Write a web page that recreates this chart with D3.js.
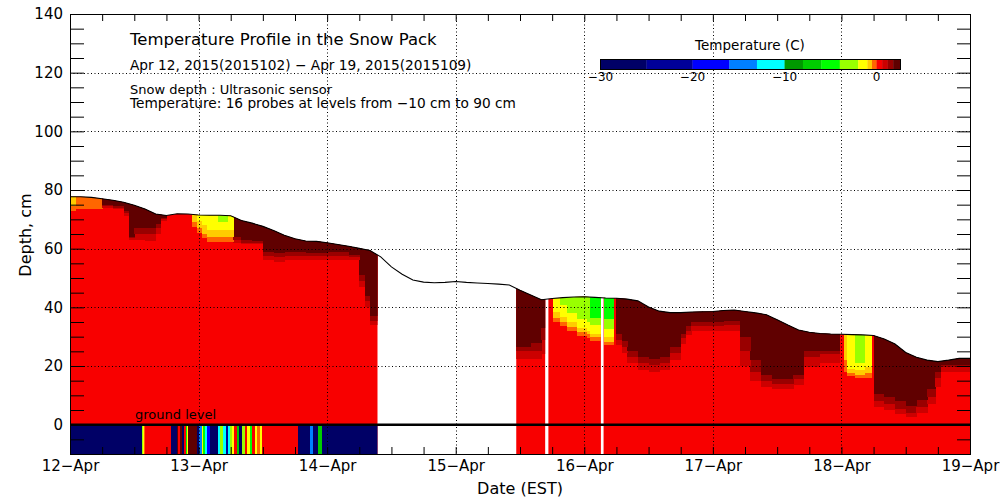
<!DOCTYPE html>
<html>
<head>
<meta charset="utf-8">
<script src="https://cdn.jsdelivr.net/npm/d3@7"></script>
<style>
  body { margin: 0; background: #fff; }
  text { font-family: "DejaVu Sans", sans-serif; fill: #000; }
</style>
</head>
<body>
<div id="chart"></div>
<script>
// ---- data (hours since 12-Apr 00:00 EST, depth in cm, temperature in C) ----
var dayLabels = ['12−Apr', '13−Apr', '14−Apr', '15−Apr', '16−Apr', '17−Apr', '18−Apr', '19−Apr'];
var depthLabels = [0, 20, 40, 60, 80, 100, 120, 140];

var levels = [-30, -25, -20, -16, -13, -10, -8, -6, -4, -2, -1, -0.5, 0, 0.6, 1.2, 1.8, 2.6];
var palette = ['#000066', '#000099', '#0000ff', '#0080ff', '#00ffff', '#009900', '#00cc00', '#00ff00',
               '#99ff00', '#ffff00', '#ffcc00', '#ff6600', '#f80000', '#cc0000', '#990000', '#600000'];
var cbTicks = [-30, -20, -10, 0];

// snow depth from the ultrasonic sensor, every 2 hours
var snowHours = d3.range(0, 169, 2);
var snowDepth = [77.7, 77.7, 77.5, 77, 76.5, 75.8, 74.8, 73.5, 71.8, 71.3, 71.9, 71.8, 71.5, 71.4, 71.4, 71.2,
                 69.6, 68.7, 67.6, 66.2, 64.6, 63.4, 62.6, 62.5, 62, 61.4, 60.8, 60.1, 59.4, 57.2, 53.8, 51.3,
                 49.3, 48.6, 48.4, 48.5, 48.8, 48.5, 48.3, 48.1, 47.9, 47.6, 45.8, 44.2, 42.6, 43, 43.3, 43.5,
                 43.6, 43.4, 43.2, 43.1, 42.8, 42.2, 40.1, 38.7, 38.2, 38.2, 38.4, 38.5, 38.6, 38.9, 39.1, 38.6,
                 38.1, 37.5, 35.8, 34, 32.3, 31.5, 31.1, 30.9, 30.8, 30.7, 30.6, 30.4, 29.2, 27.5, 24.6, 23,
                 22, 21.5, 22, 22.6, 22.6];

// periods with probe data
var dataSpans = [[0, 57.4], [83.3, 88.7], [89.3, 99.1], [99.6, 168]];
var baseTemp = 0.3;

// below ground (-10..0 cm): [from h, to h, temp]
var soilStripes = [
  [0, 13.4, -28], [13.4, 13.6, -3], [13.6, 13.8, -1.5], [13.8, 14.0, -0.3], [14.0, 18.8, 0.3],
  [18.8, 19.9, -28], [19.9, 20.2, 2.2], [20.2, 20.5, 0.3], [20.5, 20.9, 2.2], [20.9, 21.3, -28],
  [21.3, 21.6, 0.3], [21.6, 21.8, -5], [21.8, 22.1, -1.5], [22.1, 23.7, 2.2], [23.7, 24.1, -28],
  [24.1, 24.6, -14], [24.6, 24.9, -1.5], [24.9, 25.2, -5], [25.2, 25.6, -11], [25.6, 26.1, -18],
  [26.1, 27.7, -28], [27.7, 28.0, -11], [28.0, 28.6, -3], [28.6, 29.1, -11], [29.1, 29.5, -22],
  [29.5, 29.9, -11], [29.9, 30.2, -3], [30.2, 30.6, -1.5], [30.6, 31.1, 0.3], [31.1, 31.5, -7],
  [31.5, 32.1, -28], [32.1, 32.7, -3], [32.7, 33.0, 0.3], [33.0, 33.6, -1.5], [33.6, 34.0, -5],
  [34.0, 34.5, 0.3], [34.5, 34.9, -1.5], [34.9, 35.5, -0.3], [35.5, 35.8, -1.5], [35.8, 42.6, 0.3],
  [42.6, 44.8, -28], [44.8, 45.4, -14], [45.4, 46.3, -28], [46.3, 47.0, -7], [47.0, 57.4, -28]
];

// warm layers under the snow surface: [from h, to h, bottom of each layer]
var warmTemps = [2.2, 1.5, 0.9];
var warmCols = [
  [6, 8, 75, 74.5, 74], [8, 10, 74.5, 74, 73.5], [10, 11, 73, 72, 71], [11, 12, 64, 63.5, 63],
  [12, 14, 67, 65, 63], [14, 16, 67, 65, 62.5], [16, 17, 68.5, 67, 65], [17, 18, 70.5, 70, 69.5],
  [30.5, 32, 64, 63, 62], [32, 34, 63, 62, 61.5], [34, 36, 62.5, 62, 61.5], [36, 38, 59, 57.5, 56],
  [38, 40, 58.5, 57, 55.5], [40, 44, 59, 57.5, 56], [44, 48, 58.5, 57.5, 56], [48, 52, 59, 57.5, 56],
  [52, 54, 58, 57, 56], [54, 55, 51, 49, 47], [55, 56, 44, 42, 40], [56, 57.4, 37, 35.5, 34],
  [83.3, 86, 26.6, 25, 22.5], [86, 88, 28, 25, 22.5], [88, 88.7, 33, 29, 24],
  [102, 103, 31, 29, 27], [103, 104, 28.5, 26.5, 24.5], [104, 106, 25, 23, 21], [106, 108, 23, 21, 18.5],
  [108, 110, 22.5, 20.5, 18], [110, 112, 23, 21, 18.5], [112, 114, 26.5, 24.5, 22], [114, 115, 31, 29.5, 27.5],
  [115, 116, 33.5, 32, 30.5], [116, 118, 35, 33.5, 32], [118, 122, 35, 33.5, 32], [122, 125, 35.5, 34, 32],
  [125, 127, 30, 25, 20], [127, 129, 22, 18, 15], [129, 131, 17, 15, 13], [131, 135, 15.5, 14, 12],
  [135, 137, 17, 15.5, 13.5], [137, 140, 25, 23, 19.5], [140, 143.7, 25, 24, 21],
  [150, 152, 10.5, 8, 6], [152, 154, 9.5, 7, 5], [154, 156, 8, 5.5, 3.5], [156, 158, 6.5, 4, 2.5],
  [158, 160, 8.5, 6, 4], [160, 161.5, 12, 9.5, 7], [161.5, 162.5, 18, 16, 13], [162.5, 168, 20.5, 19.5, 18]
];

// cold layers under the snow surface: [from h, to h, bottom of orange, gold, yellow, yellow-green, green]
var coldTemps = [-0.3, -0.8, -1.5, -3, -5];
var coldCols = [
  [0, 1, 73, 74.5, null, null, null], [1, 6, 73.5, null, null, null, null],
  [22.7, 23.7, 67.5, 69, null, null, null], [23.7, 24.6, 65.5, 67, 69.5, null, null],
  [24.6, 25.6, 63.5, 65, 68, null, null], [25.6, 27.6, 62.4, 64, 66.4, null, null],
  [27.6, 29.5, 62.4, 64, 66.4, 69, null], [29.5, 30.5, 62.4, 64, 66.4, null, null],
  [90.2, 91.5, 35, 36.5, 38.5, null, null], [91.5, 92.7, 33.5, 35, 36.8, 40.8, null],
  [92.7, 94.6, 32, 33.3, 35, 38, null], [94.6, 96.5, 30.3, 31.7, 33, 36, null],
  [96.5, 97.1, 29.5, 31, 32, 35, null], [97.1, 99.1, 28.5, 29.8, 31, 34, 36.5],
  [99.6, 101.4, 27, 28.3, 29.8, 32.5, 36],
  [144.4, 145, 18, 22, null, null, null], [145, 146.5, 16.5, 17.5, 19, null, null],
  [146.5, 148.4, 15.8, 17, 18.5, 21, null], [148.4, 149.6, 16, 17.5, 19.5, null, null]
];

// ---- chart ----
var x = d3.scaleLinear().domain([0, 168]).range([70, 970]);
var y = d3.scaleLinear().domain([-10, 140]).range([454, 14]);
var color = d3.scaleThreshold().domain(levels.slice(1, -1)).range(palette);

var svg = d3.select('#chart').append('svg')
    .attr('width', 1000)
    .attr('height', 500);

var defs = svg.append('defs');
defs.append('clipPath').attr('id', 'spans')
    .selectAll('rect')
    .data(dataSpans)
    .join('rect')
    .attr('x', function(d) { return x(d[0]); })
    .attr('width', function(d) { return x(d[1]) - x(d[0]); })
    .attr('y', y(140))
    .attr('height', y(-10) - y(140));

var area = d3.area()
    .x(function(d, i) { return x(snowHours[i]); })
    .y0(y(-10))
    .y1(function(d) { return y(d); });
defs.append('clipPath').attr('id', 'snow')
    .append('path')
    .attr('d', area(snowDepth));

var field = svg.append('g').attr('clip-path', 'url(#spans)')
    .append('g').attr('clip-path', 'url(#snow)')
    .attr('shape-rendering', 'crispEdges');

field.append('rect')
    .attr('x', x(0)).attr('width', x(168) - x(0))
    .attr('y', y(140)).attr('height', y(-10) - y(140))
    .attr('fill', color(baseTemp));

// layers hang from the surface; draw deepest first
var layers = [];
warmCols.forEach(function(c) {
    c.slice(2).forEach(function(b, k) {
        if (b != null) layers.push({ h0: c[0], h1: c[1], bottom: b, t: warmTemps[k] });
    });
});
coldCols.forEach(function(c) {
    c.slice(2).forEach(function(b, k) {
        if (b != null) layers.push({ h0: c[0], h1: c[1], bottom: b, t: coldTemps[k] });
    });
});
layers.sort(function(a, b) { return a.bottom - b.bottom; });

field.selectAll('.layer')
    .data(layers)
    .join('rect')
    .attr('class', 'layer')
    .attr('x', function(d) { return x(d.h0); })
    .attr('width', function(d) { return x(d.h1) - x(d.h0) + 0.4; })
    .attr('y', y(140))
    .attr('height', function(d) { return y(d.bottom) - y(140); })
    .attr('fill', function(d) { return color(d.t); });

field.selectAll('.soil')
    .data(soilStripes)
    .join('rect')
    .attr('class', 'soil')
    .attr('x', function(d) { return x(d[0]); })
    .attr('width', function(d) { return x(d[1]) - x(d[0]) + 0.4; })
    .attr('y', y(0))
    .attr('height', y(-10) - y(0))
    .attr('fill', function(d) { return color(d[2]); });

// dotted grid
var grid = svg.append('g')
    .attr('stroke', '#000')
    .attr('stroke-width', 1)
    .attr('stroke-dasharray', '1,2.5');
grid.selectAll('.gx')
    .data(d3.range(24, 168, 24))
    .join('line')
    .attr('x1', function(d) { return Math.round(x(d)) + 0.5; })
    .attr('x2', function(d) { return Math.round(x(d)) + 0.5; })
    .attr('y1', y(140)).attr('y2', y(-10));
grid.selectAll('.gy')
    .data(depthLabels.filter(function(d) { return d > 0 && d < 140; }))
    .join('line')
    .attr('x1', x(0)).attr('x2', x(168))
    .attr('y1', function(d) { return Math.round(y(d)) + 0.5; })
    .attr('y2', function(d) { return Math.round(y(d)) + 0.5; });

// ground level
svg.append('line')
    .attr('x1', x(0)).attr('x2', x(168))
    .attr('y1', y(0)).attr('y2', y(0))
    .attr('stroke', '#000')
    .attr('stroke-width', 2.5);
svg.append('text')
    .attr('x', 135).attr('y', y(0) - 6)
    .attr('font-size', '13px')
    .text('ground level');

// snow depth line
var line = d3.line()
    .x(function(d, i) { return x(snowHours[i]); })
    .y(function(d) { return y(d); });
svg.append('path')
    .attr('d', line(snowDepth))
    .attr('fill', 'none')
    .attr('stroke', '#000')
    .attr('stroke-width', 1.1);

// frame and axes
svg.append('rect')
    .attr('x', x(0) + 0.5).attr('y', y(140) + 0.5)
    .attr('width', x(168) - x(0)).attr('height', y(-10) - y(140))
    .attr('fill', 'none')
    .attr('stroke', '#000');

var hourTicks = d3.range(0, 169, 6);
var bottomAxis = d3.axisBottom(x)
    .tickValues(hourTicks)
    .tickSize(-7).tickSizeOuter(0).tickPadding(6)
    .tickFormat(function(d) { return d % 24 === 0 ? dayLabels[d / 24] : ''; });
var gb = svg.append('g').attr('transform', 'translate(0,' + y(-10) + ')').call(bottomAxis);

var topAxis = d3.axisTop(x)
    .tickValues(hourTicks)
    .tickSize(-7).tickSizeOuter(0)
    .tickFormat('');
var gt = svg.append('g').attr('transform', 'translate(0,' + y(140) + ')').call(topAxis);

var depthTicks = d3.range(-10, 141, 5);
var leftAxis = d3.axisLeft(y)
    .tickValues(depthTicks)
    .tickSize(-14).tickSizeOuter(0).tickPadding(7)
    .tickFormat(function(d) { return depthLabels.indexOf(d) >= 0 ? d : ''; });
var gl = svg.append('g').attr('transform', 'translate(' + x(0) + ',0)').call(leftAxis);

var rightAxis = d3.axisRight(y)
    .tickValues(depthTicks)
    .tickSize(-13).tickSizeOuter(0)
    .tickFormat('');
var gr = svg.append('g').attr('transform', 'translate(' + x(168) + ',0)').call(rightAxis);

[gb, gt, gl, gr].forEach(function(g) {
    g.select('.domain').remove();
    g.selectAll('text').attr('font-family', '"DejaVu Sans", sans-serif').attr('font-size', '15px').attr('fill', '#000');
    g.selectAll('line').attr('stroke', '#000');
});

svg.append('text')
    .attr('x', 520).attr('y', 494)
    .attr('text-anchor', 'middle')
    .attr('font-size', '16px')
    .text('Date (EST)');
svg.append('text')
    .attr('transform', 'translate(31,235) rotate(-90)')
    .attr('text-anchor', 'middle')
    .attr('font-size', '16px')
    .text('Depth, cm');

// titles
svg.append('text').attr('x', 130).attr('y', 45).attr('font-size', '16.5px')
    .text('Temperature Profile in the Snow Pack');
svg.append('text').attr('x', 130).attr('y', 70).attr('font-size', '13.7px')
    .text('Apr 12, 2015(2015102) − Apr 19, 2015(2015109)');
svg.append('text').attr('x', 130).attr('y', 94).attr('font-size', '13px')
    .text('Snow depth : Ultrasonic sensor');
svg.append('text').attr('x', 130).attr('y', 108).attr('font-size', '13.7px')
    .text('Temperature: 16 probes at levels from −10 cm to 90 cm');

// colour bar
var cb = d3.scaleLinear().domain([levels[0], levels[levels.length - 1]]).range([600.5, 900.5]);
var cbg = svg.append('g');
cbg.selectAll('rect')
    .data(palette)
    .join('rect')
    .attr('x', function(d, i) { return cb(levels[i]); })
    .attr('width', function(d, i) { return cb(levels[i + 1]) - cb(levels[i]) + 0.3; })
    .attr('y', 59.5).attr('height', 10)
    .attr('fill', function(d) { return d; });
cbg.append('rect')
    .attr('x', cb.range()[0]).attr('y', 59.5)
    .attr('width', cb.range()[1] - cb.range()[0]).attr('height', 10)
    .attr('fill', 'none').attr('stroke', '#000');
cbg.selectAll('.cbl')
    .data(cbTicks)
    .join('text')
    .attr('class', 'cbl')
    .attr('x', function(d) { return cb(d); })
    .attr('y', 81)
    .attr('text-anchor', 'middle')
    .attr('font-size', '12px')
    .text(function(d) { return d < 0 ? '−' + Math.abs(d) : d; });
svg.append('text')
    .attr('x', 750).attr('y', 50)
    .attr('text-anchor', 'middle')
    .attr('font-size', '13.5px')
    .text('Temperature (C)');
</script>
</body>
</html>
